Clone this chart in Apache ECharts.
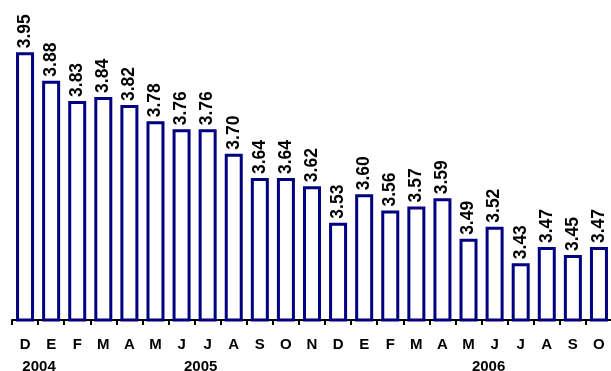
<!DOCTYPE html>
<html>
<head>
<meta charset="utf-8">
<script src="https://cdn.jsdelivr.net/npm/echarts@6/dist/echarts.min.js"></script>
<style>
  html, body { margin: 0; padding: 0; background: #ffffff; }
  #chart { width: 611px; height: 371px; }
</style>
</head>
<body>
<div id="chart"></div>
<script>
// Monthly values, Dec 2004 – Oct 2006
const months = ['D','E','F','M','A','M','J','J','A','S','O','N','D','E','F','M','A','M','J','J','A','S','O'];
const values = [3.95,3.88,3.83,3.84,3.82,3.78,3.76,3.76,3.70,3.64,3.64,3.62,3.53,3.60,3.56,3.57,3.59,3.49,3.52,3.43,3.47,3.45,3.47];
// Year captions under the month row (index in months -> caption)
const yearLabels = ['2004','','','','','','','2005','','','','','','','','','','','2006','','','',''];
// Horizontal nudge of each caption, in px (positive = right)
const yearShift = [14,0,0,0,0,0,0,-7,0,0,0,0,0,0,0,0,0,0,-6,0,0,0,0];

const FONT = '"Liberation Sans", Arial, sans-serif';

const chart = echarts.init(document.getElementById('chart'), null, { renderer: 'canvas' });

const yearData = yearLabels.map((y, i) => {
  const s = yearShift[i];
  return {
    value: y,
    textStyle: { padding: s >= 0 ? [0, 0, 0, 2 * s] : [0, -2 * s, 0, 0] }
  };
});

chart.setOption({
  animation: false,
  backgroundColor: '#ffffff',
  grid: { left: 12, width: 600, top: 32, bottom: 51, containLabel: false, outerBoundsMode: 'none' },
  xAxis: [
    {
      type: 'category',
      data: months,
      position: 'bottom',
      axisLine: { show: true, lineStyle: { color: '#000000', width: 2 } },
      axisTick: { show: true, length: 5, lineStyle: { color: '#000000', width: 2 } },
      axisLabel: {
        interval: 0,
        margin: 17,
        color: '#000000',
        fontFamily: FONT,
        fontWeight: 'bold',
        fontSize: 15
      }
    },
    {
      type: 'category',
      data: yearData,
      position: 'bottom',
      axisLine: { show: false },
      axisTick: { show: false },
      axisLabel: {
        interval: 0,
        margin: 39,
        color: '#000000',
        fontFamily: FONT,
        fontWeight: 'bold',
        fontSize: 15
      }
    }
  ],
  yAxis: {
    type: 'value',
    min: 3.29,
    max: 4.0,
    show: false,
    splitLine: { show: false }
  },
  series: [
    {
      type: 'bar',
      data: values,
      xAxisIndex: 0,
      barWidth: 18,
      itemStyle: {
        color: '#ffffff',
        borderColor: '#000080',
        borderWidth: 3
      },
      label: {
        show: true,
        position: 'top',
        distance: 4,
        rotate: 90,
        align: 'left',
        verticalAlign: 'middle',
        color: '#000000',
        fontFamily: FONT,
        fontWeight: 'bold',
        fontSize: 17.5,
        formatter: p => p.value.toFixed(2)
      }
    }
  ]
});
</script>
</body>
</html>
